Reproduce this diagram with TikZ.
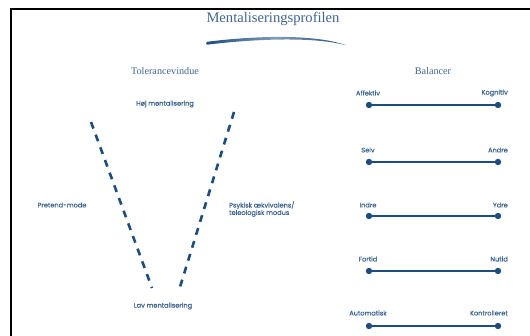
\documentclass[tikz,border=0pt]{standalone}
\usepackage{fontspec}
\newfontfamily\labelfont[FakeBold=0.3]{Poppins}
\newfontfamily\titlefont{Liberation Serif}
\definecolor{titleblue}{HTML}{41678F}
\definecolor{lineblue}{HTML}{1D4C7E}
\definecolor{textblue}{HTML}{3A618F}
\tikzset{
  titlestyle/.style={text=titleblue, font=\titlefont\fontsize{14.6}{16}\selectfont, inner sep=0pt},
  substyle/.style={text=titleblue, font=\titlefont\fontsize{10.2}{12}\selectfont, inner sep=0pt},
  lbl/.style={text=textblue, font=\labelfont\fontsize{6.6}{8}\selectfont, inner sep=0pt},
  vdash/.style={draw=lineblue, line width=2.6pt, dash pattern=on 7pt off 6.5pt},
  balline/.style={draw=lineblue, line width=1.8pt},
  enddot/.style={circle, fill=lineblue, minimum size=6.4pt, inner sep=0pt},
  frameline/.style={draw=black, line width=2.2pt}
}
\begin{document}
\begin{tikzpicture}[x=1pt,y=-1pt]
\useasboundingbox (0,0) rectangle (530,336);
\clip (0,0) rectangle (530,336);
\fill[white] (0,0) rectangle (530,336);
% frame
\coordinate (fbl) at (11,345);
\coordinate (ftl) at (11,9);
\coordinate (ftr) at (540,9);
\draw[frameline] (fbl) -- (ftl) -- (ftr);
% title
\node[titlestyle] (title) at (273,19) {Mentaliseringsprofilen};
\shade[left color=lineblue, right color=lineblue, middle color=lineblue!55] (207,41.8) .. controls (245,37) and (310,32.5) .. (346,45.2) .. controls (310,35.6) and (245,40) .. (207,44.7) .. controls (205.8,44.2) and (205.8,42.3) .. cycle;
% left part
\node[substyle] (tol) at (165,71) {Tolerancevindue};
\node[lbl] (hoj) at (165,104) {Høj mentalisering};
\node[lbl] (lav) at (163,306) {Lav mentalisering};
\node[lbl] (pret) at (62,205) {Pretend-mode};
\node[lbl, anchor=west, align=left] (psy) at (229,209) {Psykisk ækvivalens/\\[-0.6pt]teleologisk modus};
\coordinate (l1) at (91,122);
\coordinate (l2) at (152,288);
\coordinate (r1) at (234,112);
\coordinate (r2) at (180,287);
\draw[vdash] (l1) -- (l2);
\draw[vdash] (r1) -- (r2);
% right part
\node[substyle] (bal) at (433,71) {Balancer};
\foreach \l/\r/\ly/\y [count=\i] in {Affektiv/Kognitiv/93/105, Selv/Andre/150/162, Indre/Ydre/205/216, Fortid/Nutid/259/271, Automatisk/Kontrolleret/313/326} {
  \node[enddot] (a\i) at (369,\y) {};
  \node[enddot] (b\i) at (498,\y) {};
  \draw[balline] (a\i) -- (b\i);
  \node[lbl] (la\i) at (368,\ly) {\l};
  \node[lbl, anchor=east] (lb\i) at (508,\ly) {\r};
}
\end{tikzpicture}
\end{document}
